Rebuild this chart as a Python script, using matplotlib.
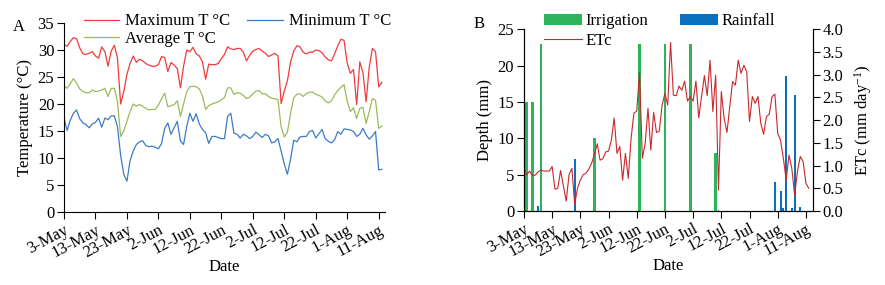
import numpy as np
import matplotlib
matplotlib.use('Agg')
import matplotlib.pyplot as plt

plt.rcParams['font.family'] = ['Liberation Serif', 'DejaVu Serif']
plt.rcParams['mathtext.default'] = 'regular'
plt.rcParams['font.size'] = 12

# daily weather, 3-May to 13-Aug
max_t = [31.0, 30.7, 31.6, 32.3, 32.1, 30.4, 29.3, 29.2, 29.4, 29.7,
         28.9, 28.5, 30.6, 29.7, 27.0, 29.8, 30.9, 28.5, 20.0, 22.3,
         25.5, 27.5, 28.9, 27.7, 28.3, 28.0, 27.5, 27.2, 27.0, 27.0,
         27.3, 28.8, 28.6, 26.0, 27.7, 27.2, 26.6, 23.0, 27.0, 30.0,
         29.7, 30.5, 29.3, 28.9, 27.8, 24.6, 27.4, 27.3, 27.3, 27.5,
         28.4, 29.2, 30.6, 30.2, 30.1, 30.3, 30.3, 29.6, 28.0, 29.0,
         29.8, 30.1, 30.3, 29.8, 29.4, 28.8, 29.1, 29.4, 28.9, 20.1,
         22.4, 24.3, 27.8, 29.8, 30.8, 30.6, 29.6, 29.3, 29.6, 29.6,
         30.0, 29.9, 29.5, 28.7, 28.2, 28.0, 29.3, 30.8, 32.0, 31.8,
         27.6, 25.7, 26.4, 19.9, 27.8, 25.8, 20.4, 26.8, 30.3, 29.7,
         23.2, 24.0]
avg_t = [23.4, 22.9, 23.8, 24.7, 23.9, 22.8, 22.3, 22.1, 22.1, 22.6,
         22.3, 22.4, 22.6, 22.9, 21.4, 22.9, 22.9, 20.5, 14.0, 15.0,
         16.8, 18.6, 20.0, 19.6, 19.9, 19.6, 19.2, 18.9, 19.0, 19.0,
         19.8, 21.0, 22.0, 19.5, 19.7, 19.9, 20.6, 17.7, 20.0, 22.3,
         23.2, 23.3, 23.2, 22.8, 21.5, 19.0, 19.7, 20.0, 20.2, 20.4,
         20.8, 21.2, 23.0, 23.0, 21.8, 22.1, 22.0, 21.6, 21.0, 21.3,
         21.9, 22.4, 22.5, 21.9, 21.9, 21.4, 21.1, 21.0, 20.8, 15.8,
         13.9, 14.8, 18.3, 21.2, 21.8, 21.9, 21.4, 21.9, 22.2, 22.2,
         21.8, 21.6, 21.3, 20.6, 20.2, 20.6, 21.7, 22.5, 23.1, 23.6,
         20.5, 18.6, 19.3, 17.3, 19.2, 19.4, 16.4, 18.6, 21.0, 20.7,
         15.5, 15.9]
min_t = [17.4, 15.1, 17.0, 18.3, 18.9, 17.3, 16.5, 16.2, 15.6, 16.3,
         16.6, 17.4, 15.7, 17.4, 17.1, 17.8, 17.8, 15.8, 10.5, 7.0,
         5.7, 9.5, 11.3, 12.5, 13.0, 13.2, 12.3, 12.1, 12.2, 12.0,
         11.7, 12.7, 15.5, 16.5, 14.4, 15.6, 16.8, 13.2, 12.5, 15.8,
         18.3, 16.8, 18.2, 16.3, 15.3, 14.7, 12.7, 14.0, 14.0, 13.8,
         13.6, 13.6, 17.7, 18.3, 14.6, 14.4, 13.7, 14.4, 14.1, 13.6,
         14.0, 14.8, 14.3, 13.8, 14.4, 14.1, 12.8, 13.0, 13.6, 11.3,
         8.9, 7.0, 9.8, 13.3, 13.0, 13.9, 14.0, 14.0, 14.9, 15.1,
         13.7, 14.5, 15.3, 13.6, 13.1, 12.8, 13.4, 14.9, 14.4, 15.4,
         15.3, 15.2, 14.9, 14.0, 14.4, 15.5, 14.3, 13.5, 14.1, 14.9,
         7.8, 7.9]
etc = [0.95, 0.80, 0.88, 0.78, 0.79, 0.86, 0.90, 0.88, 0.88, 0.88,
       0.98, 0.48, 0.50, 0.89, 0.55, 0.22, 0.80, 0.94, 0.15, 0.50,
       0.68, 0.80, 0.83, 0.92, 1.05, 1.25, 1.48, 1.12, 1.15, 1.30,
       1.32, 1.56, 2.05, 1.27, 1.42, 0.68, 1.27, 0.72, 1.60, 2.15,
       2.20, 3.05, 1.16, 1.49, 2.26, 1.34, 2.17, 1.73, 1.76, 2.33,
       2.59, 2.33, 3.71, 2.55, 2.54, 2.75, 2.66, 2.86, 2.42, 2.52,
       2.42, 2.86, 2.05, 2.52, 2.98, 2.54, 3.32, 2.19, 2.99, 0.46,
       2.63, 2.04, 1.73, 2.30, 2.85, 2.77, 3.32, 3.03, 3.21, 3.07,
       1.97, 2.52, 2.37, 2.52, 1.93, 1.69, 2.08, 2.13, 2.52, 2.57,
       1.71, 1.56, 1.16, 0.68, 1.23, 0.94, 0.35, 0.87, 1.20, 1.09,
       0.61, 0.50]

irr_day = [1, 3, 6, 25, 41, 50, 59, 68]
irr_mm = [15, 15, 23, 10, 23, 23, 23, 8]
rain_day = [5, 18, 69, 89, 91, 92, 93, 95, 96, 98]
rain_mm = [0.7, 7.2, 0.15, 4.0, 2.7, 0.45, 18.6, 0.45, 16.0, 0.55]

tick_days = [0, 10, 20, 30, 40, 50, 60, 70, 80, 90, 100]
tick_labels = ['3-May', '13-May', '23-May', '2-Jun', '12-Jun', '22-Jun',
               '2-Jul', '12-Jul', '22-Jul', '1-Aug', '11-Aug']

days = np.arange(len(max_t))

fig = plt.figure(figsize=(8.85, 2.85), dpi=100)

# ---- A: temperature
ax1 = fig.add_axes([0.0723, 0.2561, 0.3627, 0.663])
ax1.plot(days, max_t, color='#F03C3C', lw=0.9, label='Maximum T °C')
ax1.plot(days, avg_t, color='#9BBB59', lw=0.9, label='Average T °C')
ax1.plot(days, min_t, color='#3C7CC4', lw=0.9, label='Minimum T °C')
ax1.set_xlim(0, 102)
ax1.set_ylim(0, 35)
ax1.set_yticks(range(0, 36, 5))
ax1.set_xticks(tick_days)
ax1.set_xticklabels(tick_labels, rotation=28, ha='right', rotation_mode='anchor')
ax1.set_ylabel('Temperature (°C)', labelpad=3)
ax1.set_xlabel('Date', labelpad=-1)
ax1.spines['top'].set_visible(False)
ax1.spines['right'].set_visible(False)
ax1.tick_params(direction='out', length=5, pad=2)
ax1.legend(loc='upper left', bbox_to_anchor=(0.085, 0.982), bbox_transform=fig.transFigure,
           ncol=2, frameon=False, handlelength=2.15, columnspacing=1.0,
           labelspacing=0.1, borderpad=0, handletextpad=0.35, fontsize=12)
fig.text(0.014, 0.891, 'A', fontsize=12)

# ---- B: water
ax2 = fig.add_axes([0.592, 0.2596, 0.3266, 0.6375])
ax2.bar(irr_day, irr_mm, width=0.9, color='#2DB35B', label='Irrigation')
ax2.bar(rain_day, rain_mm, width=0.7, color='#0A70BE', label='Rainfall')
ax2.set_xlim(0, 102.5)
ax2.set_ylim(0, 25)
ax2.set_yticks(range(0, 26, 5))
ax2.set_xticks(tick_days)
ax2.set_xticklabels(tick_labels, rotation=28, ha='right', rotation_mode='anchor')
ax2.set_ylabel('Depth (mm)', labelpad=3)
ax2.set_xlabel('Date', labelpad=-1)
ax2.spines['top'].set_visible(False)
ax2.tick_params(direction='out', length=5, pad=2)

ax3 = ax2.twinx()
ax3.plot(days, etc, color='#C8282D', lw=0.8, label='ETc')
ax3.set_ylim(0, 4)
ax3.set_yticks(np.arange(0, 4.01, 0.5))
ax3.set_yticklabels(['%.1f' % v for v in np.arange(0, 4.01, 0.5)])
ax3.set_ylabel('ETc (mm day$^{-1}$)', labelpad=6)
ax3.spines['top'].set_visible(False)
ax3.tick_params(direction='out', length=5, pad=2)

h2, l2 = ax2.get_legend_handles_labels()
h3, l3 = ax3.get_legend_handles_labels()
ax3.legend([h2[0], h3[0], h2[1]], [l2[0], l3[0], l2[1]], loc='upper left',
           bbox_to_anchor=(0.605, 0.982), bbox_transform=fig.transFigure,
           ncol=2, frameon=False, handlelength=2.3, columnspacing=1.9,
           labelspacing=0.2, borderpad=0, handletextpad=0.2, fontsize=12)
fig.text(0.535, 0.902, 'B', fontsize=12)

fig.savefig('out.png', dpi=100)
